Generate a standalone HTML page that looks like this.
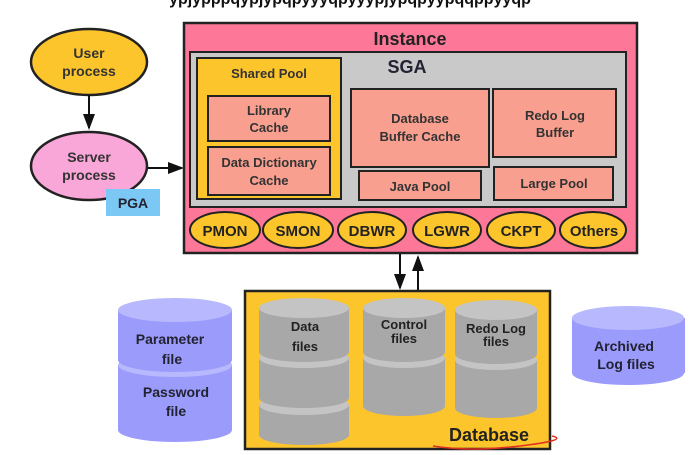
<!DOCTYPE html>
<html><head><style>body{margin:0;background:#fff}svg{display:block}text{font-family:"Liberation Sans",sans-serif;font-weight:bold;text-anchor:middle}</style></head><body>
<svg width="697" height="455" viewBox="0 0 697 455" xmlns="http://www.w3.org/2000/svg">
<defs><marker id="a" markerWidth="8" markerHeight="8" refX="7" refY="4" orient="auto"><path d="M0,1 L8,4 L0,7z" fill="#111"/></marker></defs>
<text x="350" y="4" font-size="16" fill="#111">ypjypppqypjypqpyyyqpyyypjypqpyypqqppyyqp</text>
<!-- left processes -->
<ellipse cx="89" cy="62" rx="58" ry="33" fill="#fdc52c" stroke="#222" stroke-width="2.5"/>
<text x="89" y="58" font-size="14" fill="#333">User</text><text x="89" y="76" font-size="14" fill="#333">process</text>
<line x1="89" y1="95" x2="89" y2="128" stroke="#111" stroke-width="2" marker-end="url(#a)"/>
<ellipse cx="89" cy="166" rx="58" ry="34" fill="#f9a6d8" stroke="#222" stroke-width="2.5"/>
<text x="89" y="162" font-size="14" fill="#333">Server</text><text x="89" y="180" font-size="14" fill="#333">process</text>
<rect x="106" y="189" width="54" height="27" fill="#7cc8f4"/>
<text x="133" y="208" font-size="14" fill="#223">PGA</text>
<line x1="148" y1="168" x2="182" y2="168" stroke="#111" stroke-width="2" marker-end="url(#a)"/>
<!-- instance -->
<rect x="184" y="23" width="453" height="230" fill="#fd7798" stroke="#222" stroke-width="2.5"/>
<text x="410" y="45" font-size="18" fill="#222">Instance</text>
<rect x="190" y="52" width="436" height="155" fill="#c9c9c9" stroke="#222" stroke-width="2"/>
<text x="407" y="73" font-size="18" fill="#223">SGA</text>
<rect x="197" y="58" width="144" height="141" fill="#fdc52c" stroke="#222" stroke-width="2"/>
<text x="269" y="78" font-size="13" fill="#333">Shared Pool</text>
<rect x="208" y="96" width="122" height="45" fill="#f99f8f" stroke="#222" stroke-width="2"/>
<text x="269" y="115" font-size="13" fill="#333">Library</text><text x="269" y="132" font-size="13" fill="#333">Cache</text>
<rect x="208" y="147" width="122" height="48" fill="#f99f8f" stroke="#222" stroke-width="2"/>
<text x="269" y="167" font-size="13" fill="#333">Data Dictionary</text><text x="269" y="185" font-size="13" fill="#333">Cache</text>
<rect x="351" y="89" width="138" height="78" fill="#f99f8f" stroke="#222" stroke-width="2"/>
<text x="420" y="123" font-size="13" fill="#333">Database</text><text x="420" y="141" font-size="13" fill="#333">Buffer Cache</text>
<rect x="493" y="89" width="123" height="68" fill="#f99f8f" stroke="#222" stroke-width="2"/>
<text x="555" y="120" font-size="13" fill="#333">Redo Log</text><text x="555" y="137" font-size="13" fill="#333">Buffer</text>
<rect x="359" y="171" width="122" height="29" fill="#f99f8f" stroke="#222" stroke-width="2"/>
<text x="420" y="191" font-size="13" fill="#333">Java Pool</text>
<rect x="494" y="167" width="119" height="33" fill="#f99f8f" stroke="#222" stroke-width="2"/>
<text x="554" y="188" font-size="13" fill="#333">Large Pool</text>
<g stroke="#222" stroke-width="2" fill="#fdc52c">
<ellipse cx="225" cy="230" rx="35" ry="18"/><ellipse cx="298" cy="230" rx="35" ry="18"/><ellipse cx="372" cy="230" rx="34" ry="18"/><ellipse cx="447" cy="230" rx="34" ry="18"/><ellipse cx="521" cy="230" rx="34" ry="18"/><ellipse cx="593" cy="230" rx="33" ry="18"/></g>
<g font-size="15" fill="#222"><text x="225" y="236">PMON</text><text x="298" y="236">SMON</text><text x="372" y="236">DBWR</text><text x="447" y="236">LGWR</text><text x="521" y="236">CKPT</text><text x="594" y="236">Others</text></g>
<!-- arrows -->
<line x1="400" y1="254" x2="400" y2="288" stroke="#111" stroke-width="2" marker-end="url(#a)"/>
<line x1="418" y1="291" x2="418" y2="257" stroke="#111" stroke-width="2" marker-end="url(#a)"/>
<!-- database -->
<rect x="245" y="291" width="305" height="158" fill="#fdc52c" stroke="#222" stroke-width="2.5"/>
<g fill="#a8a8a8">
<rect x="259" y="405" width="90" height="30"/><ellipse cx="304" cy="435" rx="45" ry="10"/><ellipse cx="304" cy="405" rx="45" ry="10" fill="#c4c4c4"/>
<rect x="259" y="358" width="90" height="40"/><ellipse cx="304" cy="398" rx="45" ry="10"/><ellipse cx="304" cy="358" rx="45" ry="10" fill="#c4c4c4"/>
<rect x="259" y="308" width="90" height="44"/><ellipse cx="304" cy="352" rx="45" ry="10"/><ellipse cx="304" cy="308" rx="45" ry="10" fill="#c4c4c4"/>
<rect x="363" y="358" width="82" height="48"/><ellipse cx="404" cy="406" rx="41" ry="10"/><ellipse cx="404" cy="358" rx="41" ry="10" fill="#c4c4c4"/>
<rect x="363" y="308" width="82" height="44"/><ellipse cx="404" cy="352" rx="41" ry="10"/><ellipse cx="404" cy="308" rx="41" ry="10" fill="#c4c4c4"/>
<rect x="455" y="360" width="82" height="48"/><ellipse cx="496" cy="408" rx="41" ry="10"/><ellipse cx="496" cy="360" rx="41" ry="10" fill="#c4c4c4"/>
<rect x="455" y="310" width="82" height="44"/><ellipse cx="496" cy="354" rx="41" ry="10"/><ellipse cx="496" cy="310" rx="41" ry="10" fill="#c4c4c4"/>
</g>
<g font-size="13" fill="#222">
<text x="305" y="331">Data</text><text x="305" y="351">files</text>
<text x="404" y="329">Control</text><text x="404" y="343">files</text>
<text x="496" y="333">Redo Log</text><text x="496" y="346">files</text></g>
<text x="489" y="441" font-size="18" fill="#222">Database</text>
<path d="M433 446 Q470 452 520 446 T552 436" stroke="#e03020" stroke-width="1.5" fill="none"/>
<g fill="#9b9bfb">
<rect x="118" y="365" width="114" height="65"/><ellipse cx="175" cy="430" rx="57" ry="12"/><ellipse cx="175" cy="365" rx="57" ry="12" fill="#b8b8ff"/>
<rect x="118" y="310" width="114" height="50"/><ellipse cx="175" cy="360" rx="57" ry="12"/><ellipse cx="175" cy="310" rx="57" ry="12" fill="#b8b8ff"/>
<rect x="572" y="318" width="113" height="55"/><ellipse cx="628" cy="373" rx="56" ry="12"/><ellipse cx="628" cy="318" rx="56" ry="12" fill="#b8b8ff"/>
</g>
<g font-size="14" fill="#223">
<text x="170" y="344">Parameter</text><text x="172" y="364">file</text>
<text x="176" y="397">Password</text><text x="176" y="416">file</text>
<text x="624" y="351">Archived</text><text x="626" y="369">Log files</text></g>
</svg>
</body></html>
